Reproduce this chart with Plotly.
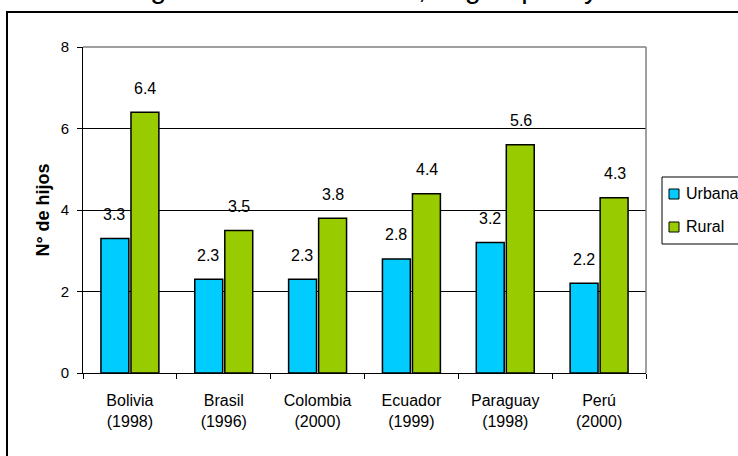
import plotly.graph_objects as go

categories = ["Bolivia<br>(1998)", "Brasil<br>(1996)", "Colombia<br>(2000)",
              "Ecuador<br>(1999)", "Paraguay<br>(1998)", "Perú<br>(2000)"]
urbana = [3.3, 2.3, 2.3, 2.8, 3.2, 2.2]
rural = [6.4, 3.5, 3.8, 4.4, 5.6, 4.3]
series_names = ["Urbana", "Rural"]
series_colors = ["#00CCFF", "#99CC00"]
y_ticks = [0, 2, 4, 6, 8]
title_text = "Tasa global de fecundidad, según país y área"
y_title = "N° de hijos"

FONT = "Liberation Sans, Arial, sans-serif"

# plot area in pixels
W, H = 738, 456
L, R, T, B = 83, 92, 47, 83
PW, PH = W - L - R, H - T - B


def px(x):
    return (x - L) / PW


def py(y):
    return (H - B - y) / PH


fig = go.Figure()
for name, vals, col in zip(series_names, [urbana, rural], series_colors):
    fig.add_trace(go.Bar(
        x=categories, y=vals, name=name,
        marker=dict(color=col, line=dict(color="black", width=1.5)),
        showlegend=False,
    ))

# data labels
annotations = []
for vals, shift in [(urbana, -15.5), (rural, 15.5)]:
    for c, v in zip(categories, vals):
        annotations.append(dict(
            x=c, y=v, xref="x", yref="y", text=f"{v:.1f}", showarrow=False,
            xshift=shift, yshift=24, yanchor="middle",
            font=dict(family=FONT, size=16, color="black"),
        ))

# clipped title at top
annotations.append(dict(
    x=px(373), y=py(5), xref="paper", yref="paper", text=title_text,
    showarrow=False, xanchor="center", yanchor="bottom", borderpad=0,
    font=dict(family=FONT, size=29, color="black"),
))

# manual legend text
for name, ycen in zip(series_names, [194, 227]):
    annotations.append(dict(
        x=px(684), y=py(ycen), xref="paper", yref="paper", text=name,
        showarrow=False, xanchor="left", yanchor="middle",
        font=dict(family=FONT, size=16, color="black"),
    ))

shapes = [
    # outer chart border
    dict(type="rect", xref="paper", yref="paper",
         x0=px(7), x1=px(760), y0=py(480), y1=py(12),
         line=dict(color="black", width=2), fillcolor="rgba(0,0,0,0)"),
    # plot area top and right border (gray)
    dict(type="line", xref="paper", yref="paper", x0=0, x1=1, y0=1, y1=1,
         line=dict(color="#808080", width=1.5)),
    dict(type="line", xref="paper", yref="paper", x0=1, x1=1, y0=0, y1=1,
         line=dict(color="#808080", width=1.5)),
    # legend box
    dict(type="rect", xref="paper", yref="paper",
         x0=px(662), x1=px(760), y0=py(244), y1=py(177),
         line=dict(color="black", width=1), fillcolor="white"),
]
for col, ycen in zip(series_colors, [194, 227]):
    shapes.append(dict(type="rect", xref="paper", yref="paper",
                       x0=px(669), x1=px(679), y0=py(ycen + 5), y1=py(ycen - 5),
                       line=dict(color="black", width=1), fillcolor=col))

fig.update_layout(
    width=W, height=H,
    margin=dict(l=L, r=R, t=T, b=B, autoexpand=False),
    paper_bgcolor="white", plot_bgcolor="white",
    barmode="group", bargap=0.36, bargroupgap=0.07,
    font=dict(family=FONT, color="black"),
    annotations=annotations, shapes=shapes,
    showlegend=False,
)
fig.update_xaxes(
    type="category", showline=True, linecolor="black", linewidth=1,
    ticks="outside", ticklen=5, tickcolor="black", tickson="boundaries",
    tickfont=dict(family=FONT, size=16, color="black"),
    showgrid=False, automargin=False, ticklabelstandoff=13,
)
fig.update_yaxes(
    range=[0, 8], tickvals=y_ticks, showline=True, linecolor="black", linewidth=1,
    ticks="outside", ticklen=5, tickcolor="black",
    tickfont=dict(family=FONT, size=15, color="black"),
    showgrid=True, gridcolor="black", gridwidth=1, zeroline=False,
    title=dict(text=f"<b>{y_title}</b>", font=dict(family=FONT, size=18, color="black"),
               standoff=6),
    automargin=False, ticklabelstandoff=5,
)

fig.write_html("out.html")
